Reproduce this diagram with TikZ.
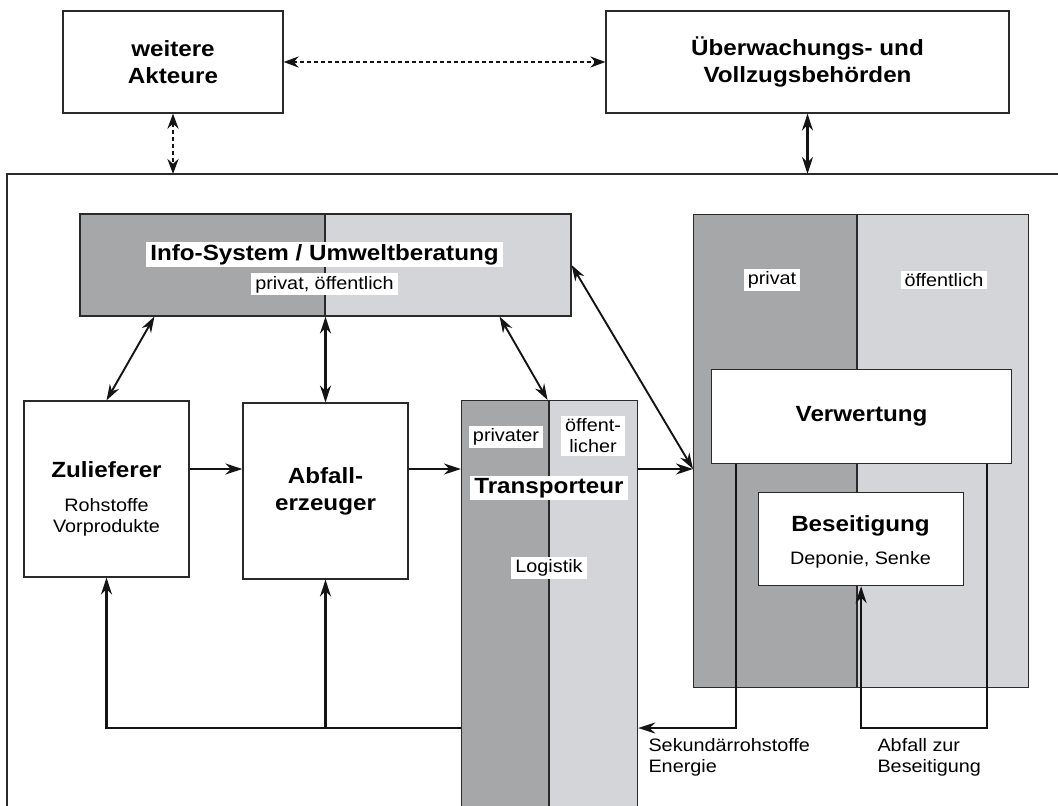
\documentclass[tikz,border=0pt]{standalone}
\usepackage{fontspec}
\setmainfont{Liberation Sans}[FakeStretch=1.1]
\usetikzlibrary{arrows.meta,calc}
\definecolor{darkg}{HTML}{A6A7A9}
\definecolor{lightg}{HTML}{D4D5D9}
\definecolor{edge}{HTML}{2A2A2A}
\begin{document}
\begin{tikzpicture}[x=1pt,y=-1pt,
  box/.style={draw=edge, line width=1.2pt, inner sep=0pt, align=center},
  bold/.style={font=\bfseries\fontsize{22}{27}\selectfont},
  reg/.style={font=\fontsize{18}{21}\selectfont},
  lab/.style={fill=white, inner xsep=4pt, inner ysep=2.5pt, align=center},
  arr/.style={draw=black!92, line width=2.4pt, -{Stealth[length=17pt,width=11pt]}},
  darr/.style={draw=black!92, line width=2.4pt, {Stealth[length=17pt,width=11pt]}-{Stealth[length=17pt,width=11pt]}},
  tarr/.style={draw=black!92, line width=1.9pt, {Stealth[length=16pt,width=10.5pt]}-{Stealth[length=16pt,width=10.5pt]}},
  dotarr/.style={draw=black!92, line width=2.4pt, dash pattern=on 4pt off 3pt, {Stealth[length=15pt,width=11pt]}-{Stealth[length=15pt,width=11pt]}},
]
\useasboundingbox (0,0) rectangle (1058,806);

% top boxes
\node[box, bold, minimum width=220, minimum height=102] (wa) at (173,62) {weitere\\Akteure};
\node[box, bold, minimum width=403, minimum height=102] (ub) at (807.5,62) {Überwachungs- und\\Vollzugsbehörden};

% frame
\coordinate (ft) at (0,174);
\draw[draw=edge, line width=1.2pt] (1058,174) -- (7,174) -- (7,806);
\draw[dotarr] (wa) -- (ub);
\draw[dotarr] (wa.south) -- (wa.south |- ft);
\draw[darr] (ub.south) -- (ub.south |- ft);

% info system
\fill[darkg] (80,214) rectangle (325,316);
\fill[lightg] (325,214) rectangle (571,316);
\draw[draw=edge, line width=1.2pt] (325,214) -- (325,316);
\node[box, minimum width=491, minimum height=102] (info) at (325.5,265) {};
\node[lab, bold, anchor=base] (infot) at (324.5,260) {Info-System / Umweltberatung};
\node[lab, reg, anchor=base] (infos) at (324.5,289) {privat, öffentlich};

% Zulieferer
\node[box, minimum width=165, minimum height=176] (zul) at (106.5,489) {};
\node[bold, anchor=base] (zult) at (106.5,477) {Zulieferer};
\node[reg, anchor=base, align=center] (zuls) at (106.5,532) {Rohstoffe\\Vorprodukte};

% Abfallerzeuger
\node[box, bold, minimum width=165, minimum height=176] (abf) at (325.5,491) {Abfall-\\erzeuger};

% Transporteur
\fill[darkg] (461,400) rectangle (549,810);
\fill[lightg] (549,400) rectangle (637,810);
\draw[draw=edge, line width=1.2pt] (549,400) -- (549,810);
\node[box, minimum width=176, minimum height=410, anchor=north west] (trans) at (461,400) {};
\node[lab, reg] (tpriv) at (506,437) {privater};
\node[lab, reg] (toef) at (593,436) {öffent-\\licher};
\node[lab, bold] (ttit) at (549,488) {Transporteur};
\node[lab, reg] (tlog) at (549,568) {Logistik};

% right region
\fill[darkg] (693,214) rectangle (857,687);
\fill[lightg] (857,214) rectangle (1028,687);
\draw[draw=edge, line width=1.2pt] (857,214) -- (857,687);
\node[box, minimum width=335, minimum height=473, anchor=north west] (rg) at (693,214) {};
\node[lab, reg] (rpriv) at (772,280) {privat};
\node[lab, reg] (roef) at (944,280) {öffentlich};
\node[box, bold, fill=white, minimum width=300, minimum height=94, anchor=north west] (verw) at (711,369) {Verwertung};
\node[box, fill=white, minimum width=205, minimum height=93, anchor=north west] (bes) at (758,492) {};
\node[bold, anchor=base] (best) at (860.5,531) {Beseitigung};
\node[reg, anchor=base] (bess) at (860.5,564) {Deponie, Senke};

% flow arrows
\coordinate (fl) at (0,469);
\draw[arr] (zul.east |- fl) -- (abf.west |- fl);
\draw[arr] (abf.east |- fl) -- (trans.west |- fl);
\draw[arr] (trans.east |- fl) -- (rg.west |- fl);

% info arrows
\draw[tarr] ([xshift=75pt]info.south west) -- (zul.north);
\draw[darr] (info.south -| abf.north) -- (abf.north);
\draw[tarr] ([xshift=-72pt]info.south east) -- ([xshift=-2pt]trans.north);
\draw[tarr] (info.east) -- (rg.west |- fl);

% bottom loops
\coordinate (bl) at (0,728);
\draw[arr] (trans.west |- bl) -| (zul.south);
\draw[arr] (abf.south |- bl) -- (abf.south);
\draw[arr] ([xshift=25pt]verw.south west) |- (trans.east |- bl);
\draw[arr] ([xshift=-25pt]verw.south east) |- (bes.south |- bl) -- (bes.south);

\node[reg, anchor=base west, align=left] (sek) at (645,772) {Sekundärrohstoffe\\Energie};
\node[reg, anchor=base west, align=left] (abz) at (874,772) {Abfall zur\\Beseitigung};
\end{tikzpicture}
\end{document}
